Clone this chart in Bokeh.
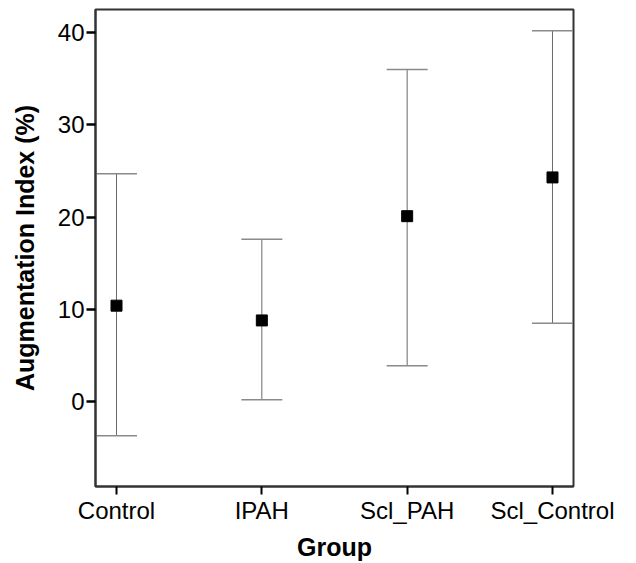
from bokeh.plotting import figure
from bokeh.models import Range1d, FixedTicker, Whisker, ColumnDataSource, TeeHead
from bokeh.embed import file_html
from bokeh.resources import INLINE

groups = ["Control", "IPAH", "Scl_PAH", "Scl_Control"]
means = [10.4, 8.8, 20.1, 24.3]
upper = [24.7, 17.6, 36.0, 40.2]
lower = [-3.7, 0.2, 3.9, 8.5]
y_ticks = [0, 10, 20, 30, 40]

xpos = list(range(len(groups)))
src = ColumnDataSource(dict(x=xpos, mean=means, upper=upper, lower=lower))

FONT = "Liberation Sans"

p = figure(width=636, height=563, output_backend="svg", toolbar_location=None,
           x_range=Range1d(-0.1445, 3.1445), y_range=Range1d(-9.2, 42.5),
           min_border_left=95, min_border_right=63, min_border_top=9, min_border_bottom=77)

p.xgrid.visible = False
p.ygrid.visible = False
p.outline_line_color = "#333333"
p.outline_line_width = 2
p.background_fill_color = "white"
p.border_fill_color = "white"

w = Whisker(base="x", upper="upper", lower="lower", source=src,
            line_color="#6a6a6a", line_width=1,
            upper_head=TeeHead(size=41, line_color="#8a8a8a", line_width=1.5),
            lower_head=TeeHead(size=41, line_color="#8a8a8a", line_width=1.5))
p.add_layout(w)

p.scatter(x="x", y="mean", source=src, marker="square", size=11,
          fill_color="black", line_color="black")

# x axis
p.xaxis.ticker = FixedTicker(ticks=xpos)
p.xaxis.major_label_overrides = {i: g for i, g in enumerate(groups)}
p.xaxis.minor_tick_line_color = None
p.xaxis.major_tick_in = 0
p.xaxis.major_tick_out = 8
p.xaxis.major_tick_line_width = 2
p.xaxis.major_tick_line_color = "black"
p.xaxis.axis_line_width = 2
p.xaxis.axis_line_color = "#333333"
p.xaxis.major_label_text_font = FONT
p.xaxis.major_label_text_font_size = "24px"
p.xaxis.major_label_text_color = "black"
p.xaxis.major_label_standoff = 2
p.xaxis.axis_label = "Group"
p.xaxis.axis_label_text_font = FONT
p.xaxis.axis_label_text_font_size = "25px"
p.xaxis.axis_label_text_font_style = "bold"
p.xaxis.axis_label_text_color = "black"
p.xaxis.axis_label_standoff = 6

# y axis
p.yaxis.ticker = FixedTicker(ticks=y_ticks)
p.yaxis.minor_tick_line_color = None
p.yaxis.major_tick_in = 0
p.yaxis.major_tick_out = 9
p.yaxis.major_tick_line_width = 2.5
p.yaxis.major_tick_line_color = "black"
p.yaxis.axis_line_width = 2
p.yaxis.axis_line_color = "#333333"
p.yaxis.major_label_text_font = FONT
p.yaxis.major_label_text_font_size = "24px"
p.yaxis.major_label_text_color = "black"
p.yaxis.major_label_standoff = 2
p.yaxis.axis_label = "Augmentation Index (%)"
p.yaxis.axis_label_text_font = FONT
p.yaxis.axis_label_text_font_size = "25px"
p.yaxis.axis_label_text_font_style = "bold"
p.yaxis.axis_label_text_color = "black"
p.yaxis.axis_label_standoff = 16

open("out.html", "w").write(file_html(p, INLINE))
